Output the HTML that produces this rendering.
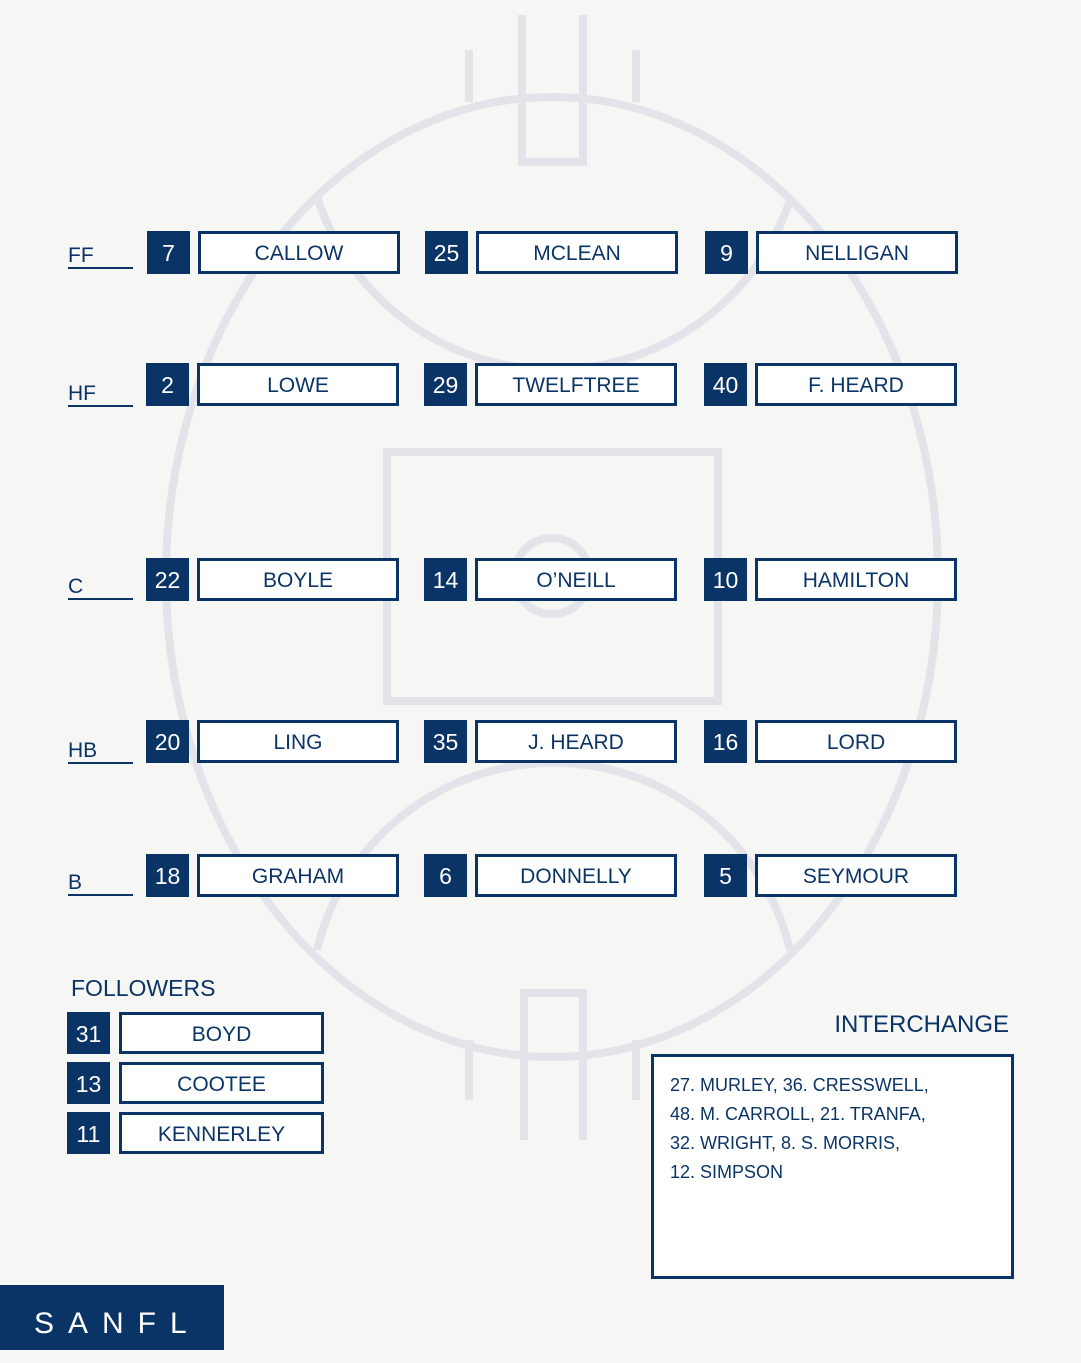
<!DOCTYPE html>
<html><head><style>
body{margin:0;width:1081px;height:1350px;background:#f6f6f5;position:relative;overflow:hidden;font-family:"Liberation Sans",sans-serif;color:#0b3466}
.n{position:absolute;background:#0b3466;color:#fff;font-size:23px;text-align:center;width:43px;height:43px;line-height:45px}
.b{position:absolute;border:3px solid #0b3466;box-sizing:border-box;background:#fff;font-size:21px;text-align:center;height:43px;line-height:39px;width:202px}
.l{position:absolute;font-size:21px;border-bottom:2px solid #0b3466;width:65px;left:68px;height:24px;line-height:26px}
</style></head><body>
<svg width="1081" height="1350" style="position:absolute;left:0;top:0" fill="none" stroke="#e3e4ea" stroke-width="8">
<ellipse cx="552" cy="577" rx="386" ry="480"/>
<rect x="387" y="452" width="331" height="249"/>
<circle cx="552" cy="576" r="38"/>
<path d="M317 197 A249 249 0 0 0 790 200"/>
<path d="M317 950 A243 243 0 0 1 790 950"/>
<path d="M522 15 V162 H583 V15 M469 50 V102 M636 50 V102"/>
<path d="M524 1140 V993 H583 V1140 M469 1040 V1100 M636 1040 V1100"/>
</svg>
<div class="l" style="top:243px">FF</div>
<div class="l" style="top:381px">HF</div>
<div class="l" style="top:574px">C</div>
<div class="l" style="top:738px">HB</div>
<div class="l" style="top:870px">B</div>

<div class="n" style="left:147px;top:231px">7</div><div class="b" style="left:198px;top:231px">CALLOW</div>
<div class="n" style="left:425px;top:231px">25</div><div class="b" style="left:476px;top:231px">MCLEAN</div>
<div class="n" style="left:705px;top:231px">9</div><div class="b" style="left:756px;top:231px">NELLIGAN</div>

<div class="n" style="left:146px;top:363px">2</div><div class="b" style="left:197px;top:363px">LOWE</div>
<div class="n" style="left:424px;top:363px">29</div><div class="b" style="left:475px;top:363px">TWELFTREE</div>
<div class="n" style="left:704px;top:363px">40</div><div class="b" style="left:755px;top:363px">F. HEARD</div>

<div class="n" style="left:146px;top:558px">22</div><div class="b" style="left:197px;top:558px">BOYLE</div>
<div class="n" style="left:424px;top:558px">14</div><div class="b" style="left:475px;top:558px">O’NEILL</div>
<div class="n" style="left:704px;top:558px">10</div><div class="b" style="left:755px;top:558px">HAMILTON</div>

<div class="n" style="left:146px;top:720px">20</div><div class="b" style="left:197px;top:720px">LING</div>
<div class="n" style="left:424px;top:720px">35</div><div class="b" style="left:475px;top:720px">J. HEARD</div>
<div class="n" style="left:704px;top:720px">16</div><div class="b" style="left:755px;top:720px">LORD</div>

<div class="n" style="left:146px;top:854px">18</div><div class="b" style="left:197px;top:854px">GRAHAM</div>
<div class="n" style="left:424px;top:854px">6</div><div class="b" style="left:475px;top:854px">DONNELLY</div>
<div class="n" style="left:704px;top:854px">5</div><div class="b" style="left:755px;top:854px">SEYMOUR</div>

<div style="position:absolute;left:71px;top:975px;font-size:23px">FOLLOWERS</div>
<div class="n" style="left:67px;top:1012px;height:42px">31</div><div class="b" style="left:119px;top:1012px;width:205px;height:42px">BOYD</div>
<div class="n" style="left:67px;top:1062px;height:42px">13</div><div class="b" style="left:119px;top:1062px;width:205px;height:42px">COOTEE</div>
<div class="n" style="left:67px;top:1112px;height:42px">11</div><div class="b" style="left:119px;top:1112px;width:205px;height:42px">KENNERLEY</div>

<div style="position:absolute;right:72px;top:1011px;font-size:24px">INTERCHANGE</div>
<div style="position:absolute;left:651px;top:1054px;width:363px;height:225px;box-sizing:border-box;border:3px solid #0b3466;background:#fff;padding:14px 0 0 16px;font-size:18px;line-height:29px">27. MURLEY, 36. CRESSWELL,<br>48. M. CARROLL, 21. TRANFA,<br>32. WRIGHT, 8. S. MORRIS,<br>12. SIMPSON</div>

<div style="position:absolute;left:0;top:1285px;width:224px;height:65px;background:#0b3466;color:#fff;font-size:30px;letter-spacing:14px;line-height:78px;padding-left:34px;box-sizing:border-box">SANFL</div>
</body></html>
